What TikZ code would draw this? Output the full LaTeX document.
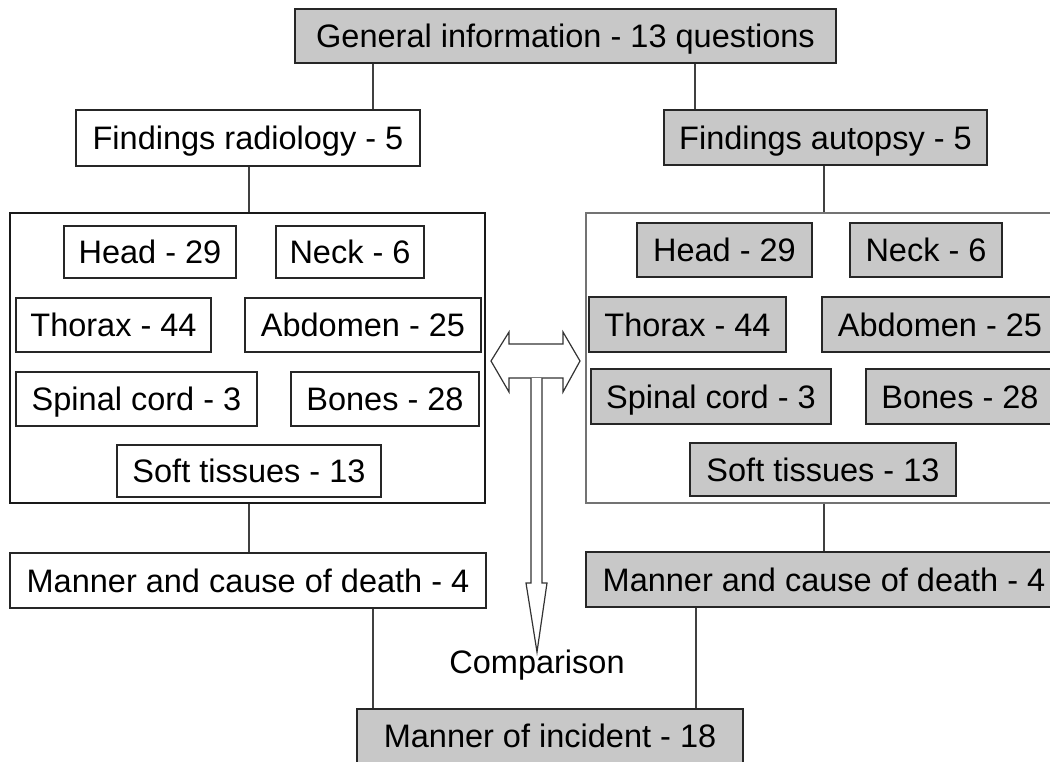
\documentclass[tikz,border=0pt]{standalone}
\usepackage{fontspec}
\setmainfont{Liberation Sans}
\definecolor{boxgray}{RGB}{200,200,200}
\begin{document}
\begin{tikzpicture}[x=1pt,y=-1pt,
  txt/.style={font=\fontsize{32.5}{39}\selectfont},
  box/.style={txt, draw=black!85, line width=1.4pt, inner sep=0pt, text height=23.3pt, text depth=0pt},
  wbox/.style={box, fill=white},
  gbox/.style={box, fill=boxgray},
  cont/.style={line width=1.4pt, inner sep=0pt, fill=white},
  link/.style={draw=black!75, line width=1.3pt},
  arr/.style={draw=black!80, line width=1.2pt, fill=white, line join=miter}]
\useasboundingbox (0,0) rectangle (1050,761);
\clip (0,0) rectangle (1050,761);
% x positions of connectors
\coordinate (xa) at (373,0);
\coordinate (xb) at (695,0);
\coordinate (xc) at (249,0);
\coordinate (xd) at (824,0);
\coordinate (xe) at (696,0);
% top
\node[gbox, minimum width=541pt, minimum height=54pt] (gen) at (565.5,36) {General information - 13 questions};
\node[wbox, minimum width=344pt, minimum height=56pt] (frad) at (248,138) {Findings radiology - 5};
\node[gbox, minimum width=323pt, minimum height=55pt] (faut) at (825.5,137.5) {Findings autopsy - 5};
% containers
\node[cont, draw=black!90, minimum width=475pt, minimum height=290pt] (lcont) at (247.5,358) {};
\node[cont, draw=black!55, minimum width=475pt, minimum height=290pt] (rcont) at (823.5,358) {};
% left inner
\node[wbox, minimum width=172pt, minimum height=52pt] (lhead) at (150,252) {Head - 29};
\node[wbox, minimum width=148pt, minimum height=52pt] (lneck) at (350,252) {Neck - 6};
\node[wbox, minimum width=195pt, minimum height=54pt] (lthor) at (113.5,325) {Thorax - 44};
\node[wbox, minimum width=236pt, minimum height=54pt] (labd) at (363,325) {Abdomen - 25};
\node[wbox, minimum width=241pt, minimum height=54pt] (lspin) at (136.5,399) {Spinal cord - 3};
\node[wbox, minimum width=188pt, minimum height=54pt] (lbone) at (385,399) {Bones - 28};
\node[wbox, minimum width=264pt, minimum height=52pt] (lsoft) at (249,471) {Soft tissues - 13};
% right inner
\node[gbox, minimum width=175pt, minimum height=54pt] (rhead) at (724.5,250) {Head - 29};
\node[gbox, minimum width=152pt, minimum height=54pt] (rneck) at (926,250) {Neck - 6};
\node[gbox, minimum width=197pt, minimum height=55pt] (rthor) at (687.5,324.5) {Thorax - 44};
\node[gbox, minimum width=236pt, minimum height=55pt] (rabd) at (940,324.5) {Abdomen - 25};
\node[gbox, minimum width=240pt, minimum height=55pt] (rspin) at (711,396.5) {Spinal cord - 3};
\node[gbox, minimum width=188pt, minimum height=55pt] (rbone) at (960,396.5) {Bones - 28};
\node[gbox, minimum width=266pt, minimum height=53pt] (rsoft) at (823,469.5) {Soft tissues - 13};
% manner
\node[wbox, minimum width=476pt, minimum height=55pt] (lman) at (248,580.5) {Manner and cause of death - 4};
\node[gbox, minimum width=476pt, minimum height=55pt] (rman) at (824,579.5) {Manner and cause of death - 4};
\node[gbox, minimum width=386pt, minimum height=54pt] (inc) at (550,736) {Manner of incident - 18};
% connectors
\draw[link] (gen.south -| xa) -- (frad.north -| xa);
\draw[link] (gen.south -| xb) -- (faut.north -| xb);
\draw[link] (frad.south -| xc) -- (lcont.north -| xc);
\draw[link] (faut.south -| xd) -- (rcont.north -| xd);
\draw[link] (lcont.south -| xc) -- (lman.north -| xc);
\draw[link] (rcont.south -| xd) -- (rman.north -| xd);
\draw[link] (lman.south -| xa) -- (inc.north -| xa);
\draw[link] (rman.south -| xe) -- (inc.north -| xe);
% comparison arrows
\draw[arr] (491,361) -- (509,332) -- (509,344) -- (563,344) -- (563,332) -- (580,361)
  -- (563,392) -- (563,378) -- (509,378) -- (509,392) -- cycle;
\draw[arr] (531,378) -- (531,583) -- (526,583) -- (537,652) -- (547,583) -- (542,583) -- (542,378);
\node[txt, inner sep=0pt, anchor=base] (cmp) at (537,673) {Comparison};
\end{tikzpicture}
\end{document}
